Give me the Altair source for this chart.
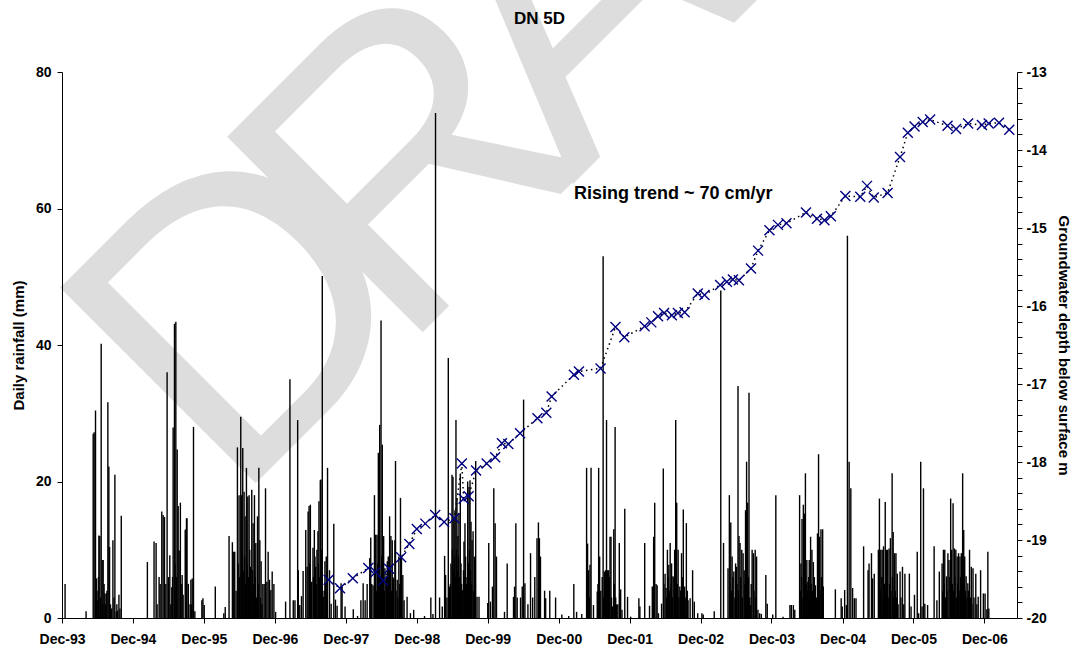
import altair as alt
import pandas as pd

# ---------------- data ----------------
# rainfall events: (decimal year, daily rainfall mm)
rain_events = [
    (1993.960, 5.0), (1994.256, 1.0), (1994.356, 27.0), (1994.370, 27.2), (1994.389, 30.4),
    (1994.403, 5.8), (1994.410, 4), (1994.422, 2.6), (1994.430, 6), (1994.436, 12.1),
    (1994.450, 12.0), (1994.460, 3), (1994.469, 40.2), (1994.483, 8.5), (1994.490, 2),
    (1994.497, 8.5), (1994.510, 5), (1994.521, 3.6), (1994.530, 2), (1994.540, 3.6),
    (1994.550, 4), (1994.563, 31.6), (1994.577, 22.2), (1994.587, 10.4), (1994.600, 2),
    (1994.615, 1.4), (1994.634, 11.4), (1994.650, 3), (1994.662, 21.0), (1994.681, 0.9),
    (1994.690, 2), (1994.700, 1.1), (1994.719, 3.4), (1994.733, 1.4), (1994.752, 15.0),
    (1995.120, 8.2), (1995.214, 11.2), (1995.243, 11.0), (1995.257, 2.0), (1995.285, 6.0),
    (1995.300, 5), (1995.323, 15.6), (1995.342, 15.1), (1995.361, 14.8), (1995.380, 5.0),
    (1995.398, 36.0), (1995.417, 6.0), (1995.436, 9.2), (1995.450, 2.0), (1995.464, 4.5),
    (1995.475, 6), (1995.483, 27.9), (1995.502, 43.1), (1995.510, 8), (1995.521, 43.4),
    (1995.530, 6), (1995.540, 24.7), (1995.554, 16.4), (1995.568, 9.9), (1995.585, 16.9),
    (1995.605, 5.0), (1995.610, 6.3), (1995.624, 3.4), (1995.653, 12.9), (1995.663, 13.0),
    (1995.671, 14.6), (1995.678, 14.6), (1995.697, 5.0), (1995.721, 2.0), (1995.733, 5.6),
    (1995.741, 2.0), (1995.752, 5.8), (1995.770, 28.0), (1995.789, 1.0), (1995.888, 2.6),
    (1995.903, 2.9), (1995.921, 1.9), (1996.077, 4.6), (1996.197, 0.7), (1996.217, 1.6),
    (1996.271, 12.0), (1996.318, 11.1), (1996.337, 9.7), (1996.351, 9.7), (1996.370, 4),
    (1996.389, 25.0), (1996.400, 8), (1996.412, 18.0), (1996.420, 6), (1996.436, 29.5),
    (1996.446, 18.0), (1996.455, 10), (1996.464, 24.9), (1996.470, 7), (1996.483, 18.5),
    (1996.490, 9), (1996.497, 14.9), (1996.505, 5), (1996.516, 22.0), (1996.525, 8),
    (1996.535, 17.8), (1996.545, 6), (1996.554, 18.0), (1996.563, 10), (1996.572, 7.5),
    (1996.582, 4), (1996.591, 18.8), (1996.600, 7), (1996.610, 13.9), (1996.620, 5),
    (1996.629, 18.0), (1996.640, 6), (1996.648, 11.0), (1996.660, 3), (1996.672, 14.9),
    (1996.682, 5), (1996.691, 22.0), (1996.705, 11.4), (1996.714, 3), (1996.723, 8.3),
    (1996.735, 2), (1996.747, 5.0), (1996.766, 5.0), (1996.785, 19.0), (1996.804, 5.3),
    (1996.822, 9.7), (1996.841, 5.6), (1996.860, 4.1), (1996.879, 6.8), (1996.903, 5.0),
    (1996.927, 0.9), (1997.068, 2.4), (1997.129, 35.0), (1997.176, 2.6), (1997.200, 2.6),
    (1997.238, 29.0), (1997.247, 7.0), (1997.268, 1.9), (1997.292, 3.2), (1997.315, 6.9),
    (1997.352, 12.9), (1997.371, 7.5), (1997.385, 15.6), (1997.399, 16.4), (1997.408, 8),
    (1997.417, 16.6), (1997.428, 4), (1997.436, 5.3), (1997.454, 10.3), (1997.462, 6),
    (1997.473, 12.9), (1997.482, 9), (1997.492, 7.5), (1997.500, 5), (1997.510, 10.0),
    (1997.524, 12.7), (1997.530, 8), (1997.538, 17.1), (1997.548, 6), (1997.557, 20.2),
    (1997.566, 20.3), (1997.575, 10), (1997.585, 50.1), (1997.599, 3.1), (1997.610, 4),
    (1997.622, 8.3), (1997.630, 5), (1997.641, 9.0), (1997.650, 3), (1997.659, 22.0),
    (1997.687, 7.0), (1997.710, 2.1), (1997.747, 13.8), (1997.771, 2.7), (1997.794, 1.8),
    (1997.850, 5.1), (1997.864, 4.6), (1997.906, 1.7), (1998.022, 1.3), (1998.082, 0.3),
    (1998.129, 2.6), (1998.161, 5.1), (1998.189, 2.6), (1998.217, 5.0), (1998.254, 8.8),
    (1998.268, 11.8), (1998.282, 5.0), (1998.301, 4.8), (1998.320, 18.0), (1998.330, 6),
    (1998.338, 12.2), (1998.348, 4), (1998.357, 12.2), (1998.366, 8), (1998.375, 24.2),
    (1998.385, 10), (1998.394, 28.3), (1998.405, 6), (1998.413, 43.6), (1998.422, 9),
    (1998.431, 25.4), (1998.440, 5), (1998.450, 12.0), (1998.460, 4), (1998.468, 7.3),
    (1998.482, 5.6), (1998.490, 6), (1998.501, 8.3), (1998.515, 9.0), (1998.525, 5),
    (1998.534, 14.9), (1998.545, 7), (1998.552, 12.0), (1998.562, 4), (1998.571, 11.4),
    (1998.580, 6), (1998.589, 5.8), (1998.608, 11.4), (1998.617, 23.0), (1998.625, 4),
    (1998.641, 5.6), (1998.650, 3), (1998.664, 9.0), (1998.675, 5), (1998.687, 17.6),
    (1998.701, 9.0), (1998.720, 6.3), (1998.738, 2.6), (1998.780, 3.1), (1998.827, 0.7),
    (1998.873, 1.2), (1999.026, 0.3), (1999.115, 3.0), (1999.144, 0.6), (1999.181, 74.0),
    (1999.238, 3.0), (1999.276, 1.7), (1999.309, 9.1), (1999.323, 6.3), (1999.342, 3.0),
    (1999.361, 38.1), (1999.380, 4.6), (1999.390, 5), (1999.398, 8.0), (1999.413, 21.0),
    (1999.420, 10), (1999.427, 20.7), (1999.435, 7), (1999.441, 14.6), (1999.448, 9),
    (1999.455, 15.8), (1999.462, 6), (1999.469, 29.0), (1999.476, 10), (1999.483, 17.6),
    (1999.490, 7), (1999.497, 12.0), (1999.504, 9), (1999.511, 15.4), (1999.520, 6),
    (1999.530, 21.0), (1999.540, 8), (1999.549, 5.0), (1999.556, 4), (1999.568, 4.1),
    (1999.575, 7), (1999.582, 11.2), (1999.590, 6), (1999.596, 13.9), (1999.605, 9),
    (1999.615, 5.0), (1999.625, 6), (1999.634, 20.0), (1999.645, 8), (1999.653, 19.2),
    (1999.660, 10), (1999.667, 20.2), (1999.675, 7), (1999.681, 14.1), (1999.690, 5),
    (1999.696, 11.4), (1999.710, 12.7), (1999.720, 4), (1999.729, 9.0), (1999.740, 3),
    (1999.747, 23.0), (1999.766, 3.1), (1999.794, 3.1), (1999.917, 2.2), (1999.931, 11.0),
    (1999.955, 2.4), (1999.983, 4.6), (2000.002, 19.0), (2000.021, 13.9), (2000.040, 9.0),
    (2000.153, 0.9), (2000.191, 8.0), (2000.280, 3.1), (2000.295, 4.6), (2000.313, 13.9),
    (2000.332, 3.0), (2000.379, 3.0), (2000.403, 4.6), (2000.422, 32.0), (2000.441, 5.1),
    (2000.483, 2.0), (2000.520, 9.5), (2000.550, 3.0), (2000.580, 6.0), (2000.611, 11.7),
    (2000.631, 14.0), (2000.645, 11.7), (2000.660, 9.0), (2000.718, 4.0), (2000.733, 2.9),
    (2000.791, 4.0), (2000.873, 3.0), (2000.961, 0.5), (2001.058, 0.3), (2001.130, 5.0),
    (2001.169, 0.9), (2001.242, 0.6), (2001.310, 22.0), (2001.324, 10.9), (2001.330, 4),
    (2001.339, 7.0), (2001.350, 3), (2001.358, 7.8), (2001.373, 22.0), (2001.407, 1.9),
    (2001.460, 3.9), (2001.470, 5), (2001.480, 22.0), (2001.494, 9.0), (2001.510, 4),
    (2001.530, 6), (2001.543, 53.0), (2001.550, 3), (2001.562, 6.8), (2001.577, 7.0),
    (2001.585, 5), (2001.591, 29.0), (2001.606, 7.0), (2001.612, 4), (2001.620, 7.0),
    (2001.630, 6), (2001.640, 11.9), (2001.654, 11.9), (2001.662, 3), (2001.674, 1.7),
    (2001.693, 13.0), (2001.700, 5), (2001.712, 28.0), (2001.720, 3), (2001.732, 2.0),
    (2001.750, 2), (2001.771, 11.0), (2001.790, 4.2), (2001.809, 1.2), (2001.848, 16.0),
    (2001.887, 3.1), (2001.931, 0.2), (2002.047, 2.9), (2002.061, 1.7), (2002.129, 11.0),
    (2002.197, 1.8), (2002.236, 4.6), (2002.255, 11.9), (2002.270, 16.9), (2002.289, 5.0),
    (2002.304, 4.8), (2002.323, 0.7), (2002.367, 2.1), (2002.391, 21.9), (2002.400, 5),
    (2002.416, 6.5), (2002.430, 4.4), (2002.440, 3), (2002.449, 10.0), (2002.460, 6),
    (2002.469, 7.8), (2002.480, 4), (2002.488, 11.0), (2002.500, 5), (2002.508, 8.0),
    (2002.518, 3), (2002.527, 6.1), (2002.540, 6), (2002.551, 10.0), (2002.558, 4),
    (2002.566, 29.0), (2002.580, 16.9), (2002.590, 5), (2002.600, 10.0), (2002.610, 3),
    (2002.624, 4.6), (2002.635, 4), (2002.648, 9.5), (2002.660, 6), (2002.673, 15.9),
    (2002.692, 4.6), (2002.700, 3), (2002.716, 13.9), (2002.730, 4), (2002.740, 2.6),
    (2002.769, 2.9), (2002.804, 7.0), (2002.828, 2.4), (2002.876, 0.7), (2002.935, 0.7),
    (2002.954, 0.5), (2003.109, 1.0), (2003.201, 48.0), (2003.240, 11.0), (2003.303, 7.3),
    (2003.322, 18.0), (2003.330, 5), (2003.342, 14.0), (2003.350, 4), (2003.361, 9.0),
    (2003.370, 6), (2003.385, 6.8), (2003.400, 3), (2003.410, 8.0), (2003.424, 7.5),
    (2003.430, 5), (2003.444, 34.0), (2003.450, 4), (2003.458, 12.0), (2003.473, 11.0),
    (2003.480, 6), (2003.497, 10.0), (2003.505, 3), (2003.516, 9.5), (2003.531, 7.0),
    (2003.540, 5), (2003.550, 15.8), (2003.558, 4), (2003.565, 22.9), (2003.579, 16.9),
    (2003.590, 6), (2003.599, 33.0), (2003.610, 3), (2003.618, 1.9), (2003.630, 5),
    (2003.643, 10.0), (2003.662, 9.5), (2003.670, 4), (2003.686, 10.0), (2003.695, 3),
    (2003.706, 9.0), (2003.725, 1.2), (2003.749, 0.7), (2003.773, 0.6), (2003.836, 6.3),
    (2003.856, 2.1), (2003.933, 0.5), (2003.977, 18.0), (2004.079, 0.2), (2004.176, 1.9),
    (2004.195, 1.9), (2004.224, 1.9), (2004.244, 1.2), (2004.312, 18.0), (2004.320, 4),
    (2004.331, 8.0), (2004.340, 6), (2004.346, 14.5), (2004.360, 3), (2004.365, 16.6),
    (2004.380, 15.3), (2004.394, 21.2), (2004.405, 5), (2004.414, 8.5), (2004.420, 4),
    (2004.428, 5.3), (2004.440, 6), (2004.448, 8.5), (2004.460, 3), (2004.467, 11.9),
    (2004.478, 5), (2004.486, 10.0), (2004.495, 4), (2004.506, 8.2), (2004.520, 6),
    (2004.535, 4.8), (2004.550, 3), (2004.564, 12.4), (2004.570, 5), (2004.579, 24.0),
    (2004.593, 11.9), (2004.600, 4), (2004.613, 13.0), (2004.620, 6), (2004.630, 3),
    (2004.637, 13.0), (2004.646, 4.6), (2004.816, 4.2), (2004.898, 2.9), (2004.913, 1.7),
    (2004.947, 4.1), (2004.971, 1.9), (2004.986, 56.0), (2005.010, 22.9), (2005.034, 19.0),
    (2005.059, 4.4), (2005.083, 2.9), (2005.107, 2.9), (2005.214, 10.5), (2005.277, 7.0),
    (2005.291, 8.0), (2005.325, 9.5), (2005.340, 5.8), (2005.364, 6.5), (2005.422, 10.0),
    (2005.430, 5), (2005.437, 17.5), (2005.450, 4), (2005.456, 10.0), (2005.470, 6),
    (2005.476, 10.0), (2005.490, 3), (2005.495, 10.5), (2005.510, 5), (2005.519, 17.0),
    (2005.530, 4), (2005.534, 10.0), (2005.545, 6), (2005.553, 10.0), (2005.560, 3),
    (2005.573, 10.2), (2005.580, 5), (2005.592, 11.7), (2005.600, 4), (2005.616, 21.2),
    (2005.620, 6), (2005.631, 12.6), (2005.640, 3), (2005.650, 9.5), (2005.660, 4),
    (2005.670, 9.5), (2005.680, 3), (2005.689, 6.5), (2005.700, 2), (2005.728, 6.8),
    (2005.740, 3), (2005.762, 7.5), (2005.780, 2), (2005.796, 6.5), (2005.859, 6.5),
    (2005.883, 1.7), (2005.931, 3.4), (2005.970, 9.7), (2005.990, 0.7), (2006.019, 22.9),
    (2006.038, 1.7), (2006.058, 19.0), (2006.077, 2.1), (2006.116, 1.9), (2006.208, 10.5),
    (2006.247, 2.6), (2006.281, 6.8), (2006.320, 8.0), (2006.330, 4), (2006.339, 10.0),
    (2006.350, 5), (2006.358, 10.0), (2006.370, 3), (2006.383, 6.1), (2006.390, 4),
    (2006.402, 9.5), (2006.417, 8.5), (2006.430, 6), (2006.441, 17.5), (2006.455, 10.0),
    (2006.465, 5), (2006.475, 16.8), (2006.480, 4), (2006.494, 10.2), (2006.500, 6),
    (2006.514, 10.0), (2006.520, 3), (2006.533, 9.0), (2006.540, 5), (2006.552, 9.5),
    (2006.560, 4), (2006.572, 9.0), (2006.580, 6), (2006.591, 9.5), (2006.600, 3),
    (2006.610, 21.2), (2006.620, 5), (2006.625, 12.9), (2006.639, 9.0), (2006.650, 4),
    (2006.659, 6.1), (2006.670, 3), (2006.683, 5.1), (2006.690, 4), (2006.707, 10.0),
    (2006.720, 3), (2006.732, 7.5), (2006.740, 2), (2006.756, 7.3), (2006.770, 3),
    (2006.795, 6.5), (2006.810, 2), (2006.829, 3.1), (2006.863, 7.0), (2006.902, 3.6),
    (2006.926, 3.6), (2006.951, 1.3), (2006.965, 9.7), (2006.979, 1.4),
]

# groundwater observations (decimal year, depth below surface m)
gw_years = [
    1997.675, 1997.835, 1998.015, 1998.233, 1998.337, 1998.442, 1998.527, 1998.697,
    1998.812, 1998.917, 1999.037, 1999.177, 1999.302, 1999.447, 1999.552, 1999.577,
    1999.647, 1999.752, 1999.902, 2000.022, 2000.117, 2000.207, 2000.372, 2000.617,
    2000.742, 2000.817, 2001.132, 2001.202, 2001.507, 2001.717, 2001.842, 2002.127,
    2002.222, 2002.317, 2002.402, 2002.512, 2002.597, 2002.692, 2002.877, 2002.972,
    2003.192, 2003.287, 2003.372, 2003.457, 2003.627, 2003.727, 2003.887, 2004.007,
    2004.127, 2004.402, 2004.557, 2004.662, 2004.752, 2004.957, 2005.167, 2005.262,
    2005.357, 2005.552, 2005.727, 2005.837, 2005.932, 2006.047, 2006.152, 2006.397,
    2006.517, 2006.687, 2006.882, 2006.977, 2007.122, 2007.267,
]
gw_depth = [
    -19.51, -19.62, -19.49, -19.36, -19.41, -19.52, -19.37, -19.22,
    -19.05, -18.86, -18.79, -18.68, -18.77, -18.72, -18.02, -18.47,
    -18.44, -18.11, -18.02, -17.94, -17.76, -17.77, -17.63, -17.44,
    -17.37, -17.16, -16.88, -16.84, -16.80, -16.27, -16.40, -16.26,
    -16.21, -16.13, -16.09, -16.12, -16.09, -16.08, -15.84, -15.86,
    -15.73, -15.69, -15.66, -15.67, -15.52, -15.29, -15.03, -14.96,
    -14.94, -14.80, -14.88, -14.90, -14.85, -14.59, -14.60, -14.46,
    -14.61, -14.55, -14.09, -13.78, -13.70, -13.64, -13.61, -13.69,
    -13.73, -13.66, -13.68, -13.66, -13.65, -13.74,
]

title_text = "DN 5D"
annotation_text = "Rising trend ~ 70 cm/yr"
annotation_pos = (2001.133, -14.63)
watermark_letters = ["D", "R", "A", "F", "T"]
rain_ticks = [0, 20, 40, 60, 80]
tick_years = list(range(1993, 2007))

# ---------------- helpers ----------------
BASE = pd.Timestamp("1993-12-01")


def ts(y):
    t = BASE + pd.to_timedelta((y - (1993 + 11 / 12)) * 365.25, unit="D")
    return t.strftime("%Y-%m-%dT%H:%M:%S")


rain_df = pd.DataFrame({"date": [ts(y) for y, _ in rain_events],
                        "mm": [m for _, m in rain_events]})
gw_df = pd.DataFrame({"date": [ts(y) for y in gw_years], "depth": gw_depth})
ann_df = pd.DataFrame({"date": [ts(annotation_pos[0])], "depth": [annotation_pos[1]],
                       "label": [annotation_text]})

FONT = "Liberation Sans"
W, H = 955, 546

x_ticks = []
for yr in tick_years:
    x_ticks.append(alt.DateTime(year=yr, month=12, date=1))
    if yr < 2006:
        x_ticks.append(alt.DateTime(year=yr + 1, month=6, date=1))

x_scale = alt.Scale(domain=[alt.DateTime(year=1993, month=12, date=1),
                            alt.DateTime(year=2007, month=5, date=18)], nice=False)
x_axis = alt.Axis(values=x_ticks,
                  labelExpr="month(datum.value) == 11 ? timeFormat(datum.value, '%b-%y') : ''",
                  title=None, grid=False, tickSize=5, labelPadding=9,
                  labelFont=FONT, labelFontSize=14, labelFontWeight="bold", labelColor="black",
                  domainColor="black", tickColor="black", labelOverlap=False, labelFlush=False,
                  zindex=1)

gw_vals = [round(-20 + 0.2 * i, 1) for i in range(36)]

# watermark: one letter per mark, laid along a rising diagonal baseline
wm_centres = [(273, 332), (440, 181), (605, 18), (770, -147), (935, -312)]
wm_layers = []
for letter, (cx, cy) in zip(watermark_letters, wm_centres):
    wm_layers.append(
        alt.Chart(pd.DataFrame({"w": [letter]})).mark_text(
            font=FONT, fontSize=402, angle=315, align="center", baseline="alphabetic",
            color="#dddddd"
        ).encode(text="w:N", x=alt.value(cx), y=alt.value(cy))
    )

rain = alt.Chart(rain_df).mark_rule(color="black", strokeWidth=1.4).encode(
    x=alt.X("date:T", scale=x_scale, axis=x_axis),
    y=alt.Y("mm:Q", scale=alt.Scale(domain=[0, 80]),
            axis=alt.Axis(values=rain_ticks, title="Daily rainfall (mm)", grid=False,
                          tickSize=5, labelPadding=6, titlePadding=9, format="d",
                          labelFont=FONT, labelFontSize=14, labelFontWeight="bold",
                          labelColor="black", titleFont=FONT, titleFontSize=15,
                          titleFontWeight="bold", titleColor="black",
                          domainColor="black", tickColor="black", zindex=1)),
    y2=alt.datum(0),
)

gw_y_scale = alt.Scale(domain=[-20, -13], nice=False)
gw_axis = alt.Axis(orient="right", values=gw_vals,
                   labelExpr="datum.value % 1 == 0 ? '-' + format(abs(datum.value), 'd') : ''",
                   title="Groundwater depth below surface m", grid=False,
                   tickSize=5, labelPadding=4, titlePadding=9,
                   labelFont=FONT, labelFontSize=14, labelFontWeight="bold",
                   labelColor="black", titleFont=FONT, titleFontSize=15,
                   titleFontWeight="bold", titleColor="black",
                   domainColor="black", tickColor="black", labelOverlap=False,
                   zindex=1)

gw_line = alt.Chart(gw_df).mark_line(color="black", strokeWidth=1.5, strokeDash=[1.5, 3.5]).encode(
    x="date:T",
    y=alt.Y("depth:Q", scale=gw_y_scale, axis=gw_axis),
)
gw_pts = alt.Chart(gw_df).mark_point(
    shape="M-1,-1L1,1M-1,1L1,-1", size=100, strokeWidth=1.4, color="#000080",
    filled=False, opacity=1
).encode(x="date:T", y=alt.Y("depth:Q", scale=gw_y_scale, axis=gw_axis))

ann = alt.Chart(ann_df).mark_text(
    align="left", baseline="alphabetic", font=FONT, fontSize=18, fontWeight="bold", color="black"
).encode(x="date:T", y=alt.Y("depth:Q", scale=gw_y_scale, axis=gw_axis), text="label:N")

gw_layer = alt.layer(gw_line, gw_pts, ann)

title = alt.Chart(pd.DataFrame({"t": [title_text]})).mark_text(
    font=FONT, fontSize=17, fontWeight="bold", align="center", baseline="alphabetic", color="black"
).encode(text="t:N", x=alt.value(W / 2), y=alt.value(-48))

chart = alt.layer(*wm_layers, rain, gw_layer, title).resolve_scale(y="independent").properties(
    width=W, height=H,
    padding={"left": 62, "top": 72, "right": 59, "bottom": 33},
    autosize=alt.AutoSizeParams(type="none"),
    background="white",
).configure_view(stroke="transparent")

chart.save("out.html", embed_options={"renderer": "svg", "actions": False})
